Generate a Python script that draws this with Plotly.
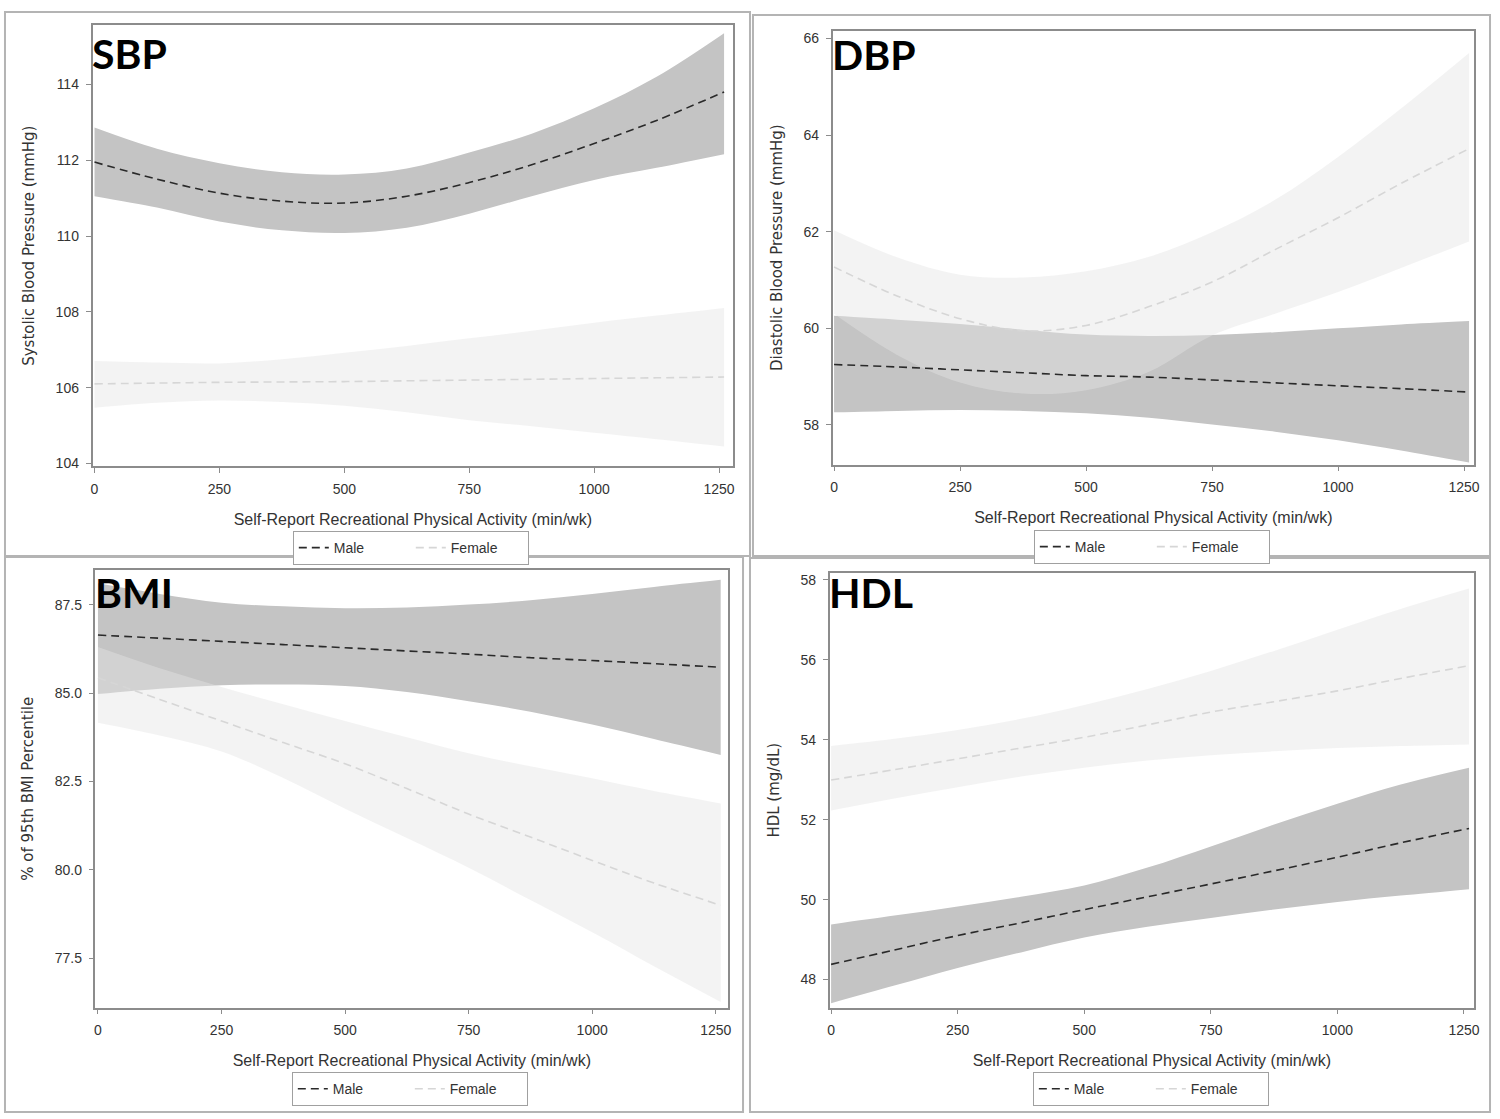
import plotly.graph_objects as go

# ---------------- data ----------------
X = [0, 125, 250, 375, 500, 625, 750, 875, 1000, 1125, 1260]

sbp_male = [111.95, 111.5, 111.13, 110.92, 110.87, 111.05, 111.41, 111.88, 112.44, 113.05, 113.8]
sbp_male_hi = [112.86, 112.3, 111.92, 111.68, 111.62, 111.78, 112.2, 112.7, 113.37, 114.2, 115.35]
sbp_male_lo = [111.05, 110.75, 110.38, 110.15, 110.08, 110.22, 110.59, 111.05, 111.48, 111.8, 112.16]
sbp_female = [106.1, 106.12, 106.14, 106.15, 106.16, 106.18, 106.2, 106.22, 106.24, 106.26, 106.28]
sbp_female_hi = [106.7, 106.66, 106.64, 106.75, 106.92, 107.1, 107.3, 107.5, 107.71, 107.9, 108.1]
sbp_female_lo = [105.47, 105.6, 105.66, 105.62, 105.52, 105.35, 105.14, 104.98, 104.81, 104.64, 104.45]

dbp_male = [59.25, 59.2, 59.14, 59.08, 59.02, 58.99, 58.93, 58.87, 58.81, 58.75, 58.68]
dbp_male_hi = [60.26, 60.18, 60.09, 59.97, 59.87, 59.84, 59.86, 59.92, 60.0, 60.08, 60.15]
dbp_male_lo = [58.26, 58.29, 58.31, 58.29, 58.24, 58.15, 58.01, 57.86, 57.68, 57.47, 57.22]
dbp_female = [61.27, 60.67, 60.2, 59.95, 60.06, 60.45, 60.96, 61.63, 62.29, 63.0, 63.72]
dbp_female_hi = [62.03, 61.47, 61.11, 61.05, 61.18, 61.48, 61.99, 62.66, 63.55, 64.55, 65.7]
dbp_female_lo = [60.3, 59.45, 58.88, 58.65, 58.72, 59.1, 59.85, 60.3, 60.75, 61.25, 61.8]

bmi_male = [86.64, 86.55, 86.46, 86.37, 86.28, 86.19, 86.1, 86.0, 85.92, 85.83, 85.73]
bmi_male_hi = [88.1, 87.8, 87.55, 87.45, 87.4, 87.42, 87.5, 87.62, 87.8, 88.0, 88.2]
bmi_male_lo = [84.97, 85.12, 85.22, 85.24, 85.2, 85.03, 84.77, 84.47, 84.11, 83.7, 83.25]
bmi_female = [85.43, 84.82, 84.21, 83.6, 83.0, 82.3, 81.58, 80.93, 80.27, 79.63, 79.0]
bmi_female_hi = [86.3, 85.7, 85.17, 84.68, 84.21, 83.75, 83.3, 82.93, 82.59, 82.23, 81.88]
bmi_female_lo = [84.16, 83.8, 83.35, 82.6, 81.73, 80.9, 80.06, 79.15, 78.24, 77.28, 76.27]

hdl_male = [48.38, 48.74, 49.1, 49.42, 49.75, 50.07, 50.39, 50.72, 51.06, 51.42, 51.78]
hdl_male_hi = [49.38, 49.6, 49.83, 50.07, 50.35, 50.8, 51.33, 51.88, 52.4, 52.88, 53.3]
hdl_male_lo = [47.41, 47.85, 48.29, 48.68, 49.05, 49.32, 49.54, 49.75, 49.94, 50.1, 50.26]
hdl_female = [52.99, 53.25, 53.52, 53.79, 54.06, 54.37, 54.69, 54.95, 55.22, 55.53, 55.85]
hdl_female_hi = [53.84, 54.02, 54.24, 54.52, 54.87, 55.27, 55.72, 56.22, 56.75, 57.27, 57.78]
hdl_female_lo = [52.23, 52.53, 52.81, 53.08, 53.3, 53.48, 53.61, 53.71, 53.79, 53.84, 53.88]

x_ticks = [0, 250, 500, 750, 1000, 1250]
x_title = "Self-Report Recreational Physical Activity (min/wk)"
panel_labels = ["SBP", "DBP", "BMI", "HDL"]
y_titles = ["Systolic Blood Pressure (mmHg)", "Diastolic Blood Pressure (mmHg)",
            "% of 95th BMI Percentile", "HDL (mg/dL)"]

# ---------------- layout geometry (pixels) ----------------
W, H = 1500, 1119
boxes = [(91, 735, 24, 468), (835, 1480, 30, 466), (94, 730, 572, 1012), (832, 1480, 575, 1012)]
xranges = [(-4, 1278), (-3, 1270), (-5, 1275), (-3, 1270)]
yranges = [(103.92, 115.57), (57.18, 66.16), (76.11, 88.48), (47.3, 58.17)]
ydticks = [2, 2, 2.5, 2]
yfmt = ["d", "d", ".1f", "d"]
frames = [(3, 752, 11, 558), (755, 1496, 14, 558), (3, 745, 559, 1117), (752, 1496, 560, 1117)]
legend_pos = [(411, 550), (1156, 549), (410, 1094), (1155, 1094)]
label_top = [26, 27, 568, 568]

panels = [
    (sbp_male, sbp_male_lo, sbp_male_hi, sbp_female, sbp_female_lo, sbp_female_hi),
    (dbp_male, dbp_male_lo, dbp_male_hi, dbp_female, dbp_female_lo, dbp_female_hi),
    (bmi_male, bmi_male_lo, bmi_male_hi, bmi_female, bmi_female_lo, bmi_female_hi),
    (hdl_male, hdl_male_lo, hdl_male_hi, hdl_female, hdl_female_lo, hdl_female_hi),
]

MALE_BAND = "rgb(196,196,196)"
FEMALE_BAND = "rgba(228,228,228,0.45)"
MALE_LINE = "#2a2a2a"
FEMALE_LINE = "#d6d6d6"
NARROW = "Liberation Sans Narrow, Liberation Sans, Arial"
TICK_FONT = dict(family=NARROW, size=14, color="#333333")

fig = go.Figure()
layout = dict(width=W, height=H, margin=dict(l=0, r=0, t=0, b=0),
              paper_bgcolor="white", plot_bgcolor="white", shapes=[], annotations=[])

for i, (m, mlo, mhi, f, flo, fhi) in enumerate(panels):
    k = "" if i == 0 else str(i + 1)
    xa, ya = "x" + k, "y" + k
    lg = "legend" + k
    band = dict(mode="lines", hoverinfo="skip", showlegend=False, xaxis=xa, yaxis=ya)
    fig.add_trace(go.Scatter(x=X, y=mlo, line=dict(width=0, shape="spline", color=MALE_BAND), **band))
    fig.add_trace(go.Scatter(x=X, y=mhi, fill="tonexty", fillcolor=MALE_BAND,
                             line=dict(width=0, shape="spline", color=MALE_BAND), **band))
    fig.add_trace(go.Scatter(x=X, y=flo, line=dict(width=0, shape="spline", color=FEMALE_BAND), **band))
    fig.add_trace(go.Scatter(x=X, y=fhi, fill="tonexty", fillcolor=FEMALE_BAND,
                             line=dict(width=0, shape="spline", color=FEMALE_BAND), **band))
    fig.add_trace(go.Scatter(x=X, y=m, mode="lines", name="Male",
                             line=dict(color=MALE_LINE, width=1.6, dash="8px,5px", shape="spline"),
                             xaxis=xa, yaxis=ya, legend=lg))
    fig.add_trace(go.Scatter(x=X, y=f, mode="lines", name="Female",
                             line=dict(color=FEMALE_LINE, width=1.6, dash="8px,5px", shape="spline"),
                             xaxis=xa, yaxis=ya, legend=lg))

    l, r, t, b = boxes[i]
    axcommon = dict(showline=True, linecolor="#8c8c8c", linewidth=1.5, mirror=True,
                    ticks="outside", ticklen=5, tickcolor="#8c8c8c", showgrid=False,
                    zeroline=False, tickfont=TICK_FONT, ticklabelstandoff=4)
    layout["xaxis" + k] = dict(domain=[l / W, r / W], range=list(xranges[i]), anchor=ya,
                               tickvals=x_ticks,
                               title=dict(text=x_title, standoff=18,
                                          font=dict(family=NARROW, size=16, color="#333333")),
                               **axcommon)
    layout["yaxis" + k] = dict(domain=[1 - b / H, 1 - t / H], range=list(yranges[i]), anchor=xa,
                               dtick=ydticks[i], tickformat=yfmt[i],
                               title=dict(text=y_titles[i], standoff=17,
                                          font=dict(family="DejaVu Sans, Verdana", size=15, color="#333333")),
                               **axcommon)
    layout["annotations"].append(dict(text="<b>%s</b>" % panel_labels[i], xref="paper", yref="paper",
                                      x=(l - 3) / W, y=1 - label_top[i] / H, xanchor="left", yanchor="top",
                                      showarrow=False,
                                      font=dict(family="Lato, Open Sans", size=41, color="black")))
    fl, fr, ft, fb = frames[i]
    layout["shapes"].append(dict(type="rect", xref="paper", yref="paper",
                                 x0=fl / W, x1=fr / W, y0=1 - fb / H, y1=1 - ft / H,
                                 line=dict(color="#b4b4b4", width=2), layer="below"))
    lx, ly = legend_pos[i]
    layout[lg] = dict(orientation="h", x=lx / W, y=1 - ly / H, xanchor="center", yanchor="middle",
                      bordercolor="#a0a0a0", borderwidth=1, bgcolor="white", traceorder="normal",
                      font=dict(family=NARROW, size=14, color="#333333"),
                      entrywidth=72, entrywidthmode="pixels", tracegroupgap=0)

fig.update_layout(**layout)
fig.write_html("out.html", config={"displayModeBar": False},
               post_script="document.body.style.margin='0px';document.body.style.padding='0px';")
